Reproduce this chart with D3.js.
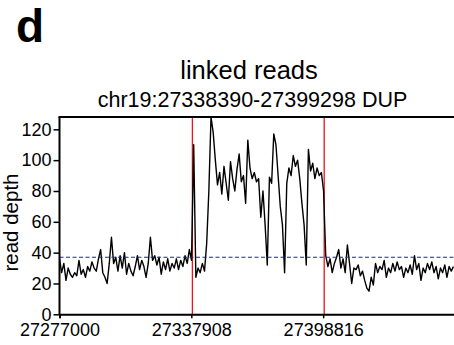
<!DOCTYPE html>
<html>
<head>
<meta charset="utf-8">
<script src="https://cdn.jsdelivr.net/npm/d3@7"></script>
<style>
  html, body { margin: 0; padding: 0; background: #fff; }
  svg { display: block; font-family: "Liberation Sans", Arial, sans-serif; }
</style>
</head>
<body>
<svg id="chart" width="454" height="345"></svg>
<script>
// Read depth of linked reads in 1 kb bins along chr19
const binStart = 27277000;
const binSize = 1000;
const depth = [
  36, 27, 33, 22, 30, 26, 24, 27, 25, 35, 26, 29, 24, 31, 28, 34, 30, 28, 36, 42,
  27, 24, 20, 33, 50, 33, 37, 28, 38, 30, 40, 26, 33, 28, 25, 31, 38, 29, 35, 31,
  24, 33, 50, 35, 38, 32, 37, 26, 34, 29, 36, 28, 33, 30, 36, 29, 35, 31, 38, 33,
  42, 35, 110, 24, 30, 27, 33, 28, 46, 80, 128, 118, 100, 84, 92, 78, 96, 85, 74, 99,
  88, 80, 94, 104, 86, 90, 72, 113, 95, 88, 92, 86, 88, 63, 80, 58, 32, 89, 85, 117,
  110, 90, 70, 58, 27, 85, 95, 90, 103, 96, 100, 88, 72, 58, 32, 107, 93, 98, 88, 95,
  90, 92, 80, 38, 31, 36, 27, 33, 37, 42, 30, 36, 27, 45, 33, 20, 30, 29, 32, 25,
  28, 22, 17, 15, 24, 19, 33, 27, 31, 29, 35, 24, 30, 27, 33, 28, 34, 29, 31, 24,
  30, 27, 32, 26, 38, 29, 33, 22, 30, 27, 33, 29, 34, 27, 31, 23, 30, 27, 32, 24,
  31, 28, 31
];

const xDomain = [27277000, 27459724];
const xTicks = [27277000, 27337908, 27398816];
const yTicks = [0, 20, 40, 60, 80, 100, 120];
const yMax = 128;
const breakpoints = [27338390, 27399298];   // DUP start / end
const meanDepth = 37;

const title = "linked reads";
const subtitle = "chr19:27338390-27399298 DUP";
const panelLetter = "d";
const yLabel = "read depth";

const svg = d3.select("#chart");
const plotLeft = 59.5, plotRight = 455, plotTop = 117, plotBottom = 314.3;

const x = d3.scaleLinear().domain(xDomain).range([plotLeft, plotRight]);
const y = d3.scaleLinear().domain([0, yMax]).range([plotBottom, plotTop]);

svg.append("defs").append("clipPath").attr("id", "plotClip")
  .append("rect").attr("x", plotLeft).attr("y", plotTop)
  .attr("width", plotRight - plotLeft).attr("height", plotBottom - plotTop);

// panel letter and titles
svg.append("text").attr("x", 16).attr("y", 42)
  .attr("font-size", 46).attr("font-weight", "bold").text(panelLetter);
svg.append("text").attr("x", 249).attr("y", 79).attr("text-anchor", "middle")
  .attr("font-size", 25.5).text(title);
svg.append("text").attr("x", 252.5).attr("y", 106.5).attr("text-anchor", "middle")
  .attr("font-size", 21.5).text(subtitle);

const plot = svg.append("g").attr("clip-path", "url(#plotClip)");

// breakpoints
plot.selectAll("line.bp").data(breakpoints).join("line")
  .attr("class", "bp")
  .attr("x1", d => x(d)).attr("x2", d => x(d))
  .attr("y1", plotTop).attr("y2", plotBottom)
  .attr("stroke", "#e8161b").attr("stroke-width", 1.3);

// depth trace
const line = d3.line()
  .x((d, i) => x(binStart + i * binSize))
  .y(d => y(d));
plot.append("path").datum(depth)
  .attr("d", line).attr("fill", "none")
  .attr("stroke", "#000").attr("stroke-width", 1.4)
  .attr("stroke-linejoin", "round");

// genome-wide mean depth
plot.append("line")
  .attr("x1", plotLeft).attr("x2", plotRight)
  .attr("y1", y(meanDepth)).attr("y2", y(meanDepth))
  .attr("stroke", "#1f1fbf").attr("stroke-width", 1.2)
  .attr("stroke-dasharray", "4,2.5");

// axes
const yAxis = svg.append("g").attr("transform", `translate(${plotLeft},0)`)
  .call(d3.axisLeft(y).tickValues(yTicks).tickSize(6).tickPadding(2));
const xAxis = svg.append("g").attr("transform", `translate(0,${plotBottom})`)
  .call(d3.axisBottom(x).tickValues(xTicks).tickFormat(d3.format("d")).tickSize(4).tickPadding(5));

[yAxis, xAxis].forEach(g => {
  g.select(".domain").attr("stroke", "#000").attr("stroke-width", 2);
  g.selectAll(".tick line").attr("stroke", "#000").attr("stroke-width", 1.5);
  g.selectAll(".tick text").attr("fill", "#000").attr("font-size", 18)
    .attr("font-family", "'Liberation Sans', Arial, sans-serif");
});
yAxis.select(".domain").attr("d", `M0,${plotTop}V${plotBottom}`);

// top frame edge
svg.append("line").attr("x1", plotLeft - 1).attr("x2", plotRight)
  .attr("y1", plotTop).attr("y2", plotTop)
  .attr("stroke", "#000").attr("stroke-width", 2);

svg.append("text")
  .attr("transform", "translate(18,222.5) rotate(-90)")
  .attr("text-anchor", "middle").attr("font-size", 20.5).text(yLabel);
</script>
</body>
</html>
